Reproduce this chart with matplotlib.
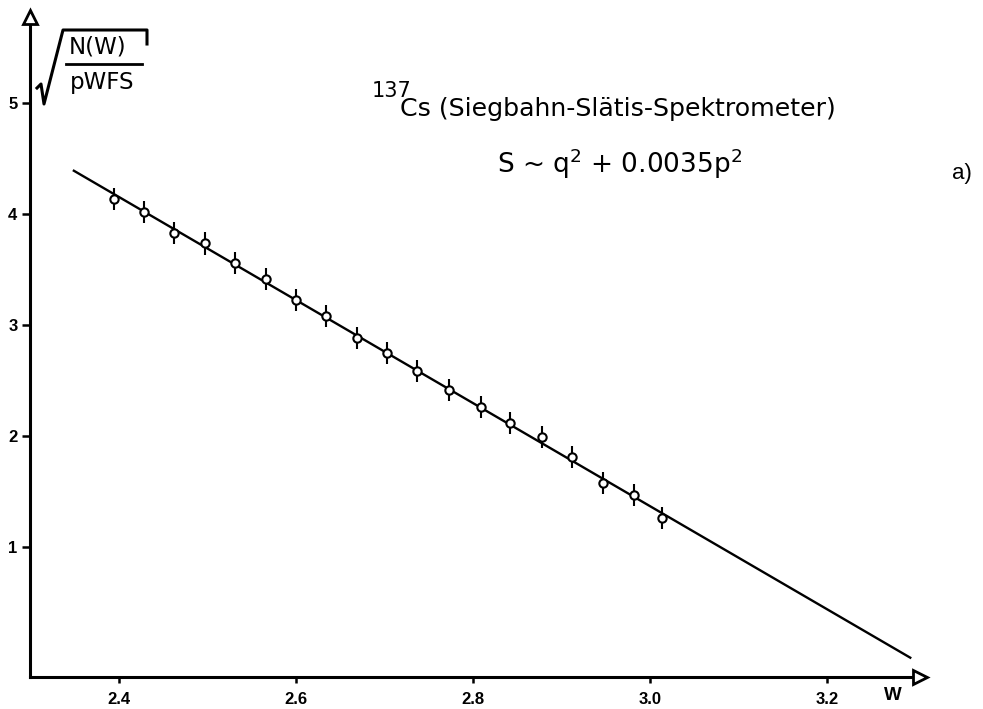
import matplotlib.pyplot as plt
from matplotlib.lines import Line2D

w = [2.394, 2.428, 2.462, 2.497, 2.531, 2.566, 2.600, 2.634, 2.669, 2.703,
     2.737, 2.773, 2.809, 2.842, 2.878, 2.912, 2.947, 2.982, 3.013]
y = [4.135, 4.013, 3.823, 3.732, 3.553, 3.409, 3.225, 3.078, 2.880, 2.745,
     2.580, 2.412, 2.259, 2.112, 1.986, 1.808, 1.571, 1.468, 1.256]
yerr = [0.1] * len(w)

# Ausgleichsgerade
fit_w = [2.349, 3.294]
fit_y = [4.387, 0.0]

xticks = [2.4, 2.6, 2.8, 3.0, 3.2]
xticklabels = ['2.4', '2.6', '2.8', '3.0', '3.2']
yticks = [1, 2, 3, 4, 5]

fig = plt.figure(figsize=(9.83, 7.09), dpi=100)
ax = fig.add_axes([30 / 983, 32 / 709, 890 / 983, 660 / 709])

ax.plot(fit_w, fit_y, color='black', lw=1.7, zorder=2)
ax.errorbar(w, y, yerr=yerr, fmt='none', ecolor='black', elinewidth=1.5, zorder=3)
ax.plot(w, y, 'o', ms=6, mfc='white', mec='black', mew=1.5, zorder=4)

ax.set_xlim(2.29944, 3.305)
ax.set_ylim(-0.174, 5.772)

for s in ['top', 'right']:
    ax.spines[s].set_visible(False)
for s in ['left', 'bottom']:
    ax.spines[s].set_linewidth(2.2)

ax.set_xticks(xticks)
ax.set_xticklabels(xticklabels)
ax.set_yticks(yticks)
ax.tick_params(axis='x', direction='out', length=4, width=1.8, pad=7)
ax.tick_params(axis='y', direction='out', length=6, width=1.8, pad=3)
for lab in ax.get_xticklabels() + ax.get_yticklabels():
    lab.set_fontfamily('Liberation Sans')
    lab.set_fontweight('bold')
    lab.set_fontsize(12)

# Pfeilspitzen
ax.plot([1], [0], marker='>', ms=9.5, mfc='white', mec='black', mew=2,
        transform=ax.transAxes, clip_on=False, zorder=5)
ax.plot([0], [1], marker='^', ms=9.5, mfc='white', mec='black', mew=2,
        transform=ax.transAxes, clip_on=False, zorder=5)

fig.text(893 / 983, 1 - 695 / 709, 'W', ha='center', va='center',
         fontsize=13.5, fontweight='bold', family='Liberation Sans')


# y-Beschriftung als Wurzel
def px(x, yy):
    return x / 983, 1 - yy / 709


rad = [px(37, 88), px(41, 84), px(44, 104), px(63, 30), px(147, 30), px(147, 44)]
fig.add_artist(Line2D([p[0] for p in rad], [p[1] for p in rad], color='black',
                      lw=2.2, transform=fig.transFigure))
bar = [px(66, 64), px(142, 64)]
fig.add_artist(Line2D([p[0] for p in bar], [p[1] for p in bar], color='black',
                      lw=2, transform=fig.transFigure))
fig.text(*px(98, 47), 'N(W)', ha='center', va='center', fontsize=16.5, family='DejaVu Sans')
fig.text(*px(102, 83), 'pWFS', ha='center', va='center', fontsize=16.5, family='DejaVu Sans')

fig.text(*px(372, 97), '137', ha='left', va='baseline', fontsize=15, family='DejaVu Sans')
fig.text(*px(400, 116), 'Cs (Siegbahn-Slätis-Spektrometer)',
         ha='left', va='baseline', fontsize=18.2, family='DejaVu Sans')
fig.text(*px(620, 173), r'S ~ $\mathregular{q^2}$ + 0.0035$\mathregular{p^2}$',
         ha='center', va='baseline', fontsize=19, family='DejaVu Sans')
fig.text(*px(962, 173), 'a)', ha='center', va='center', fontsize=16, family='Liberation Sans')

fig.savefig('out.png', dpi=100)
